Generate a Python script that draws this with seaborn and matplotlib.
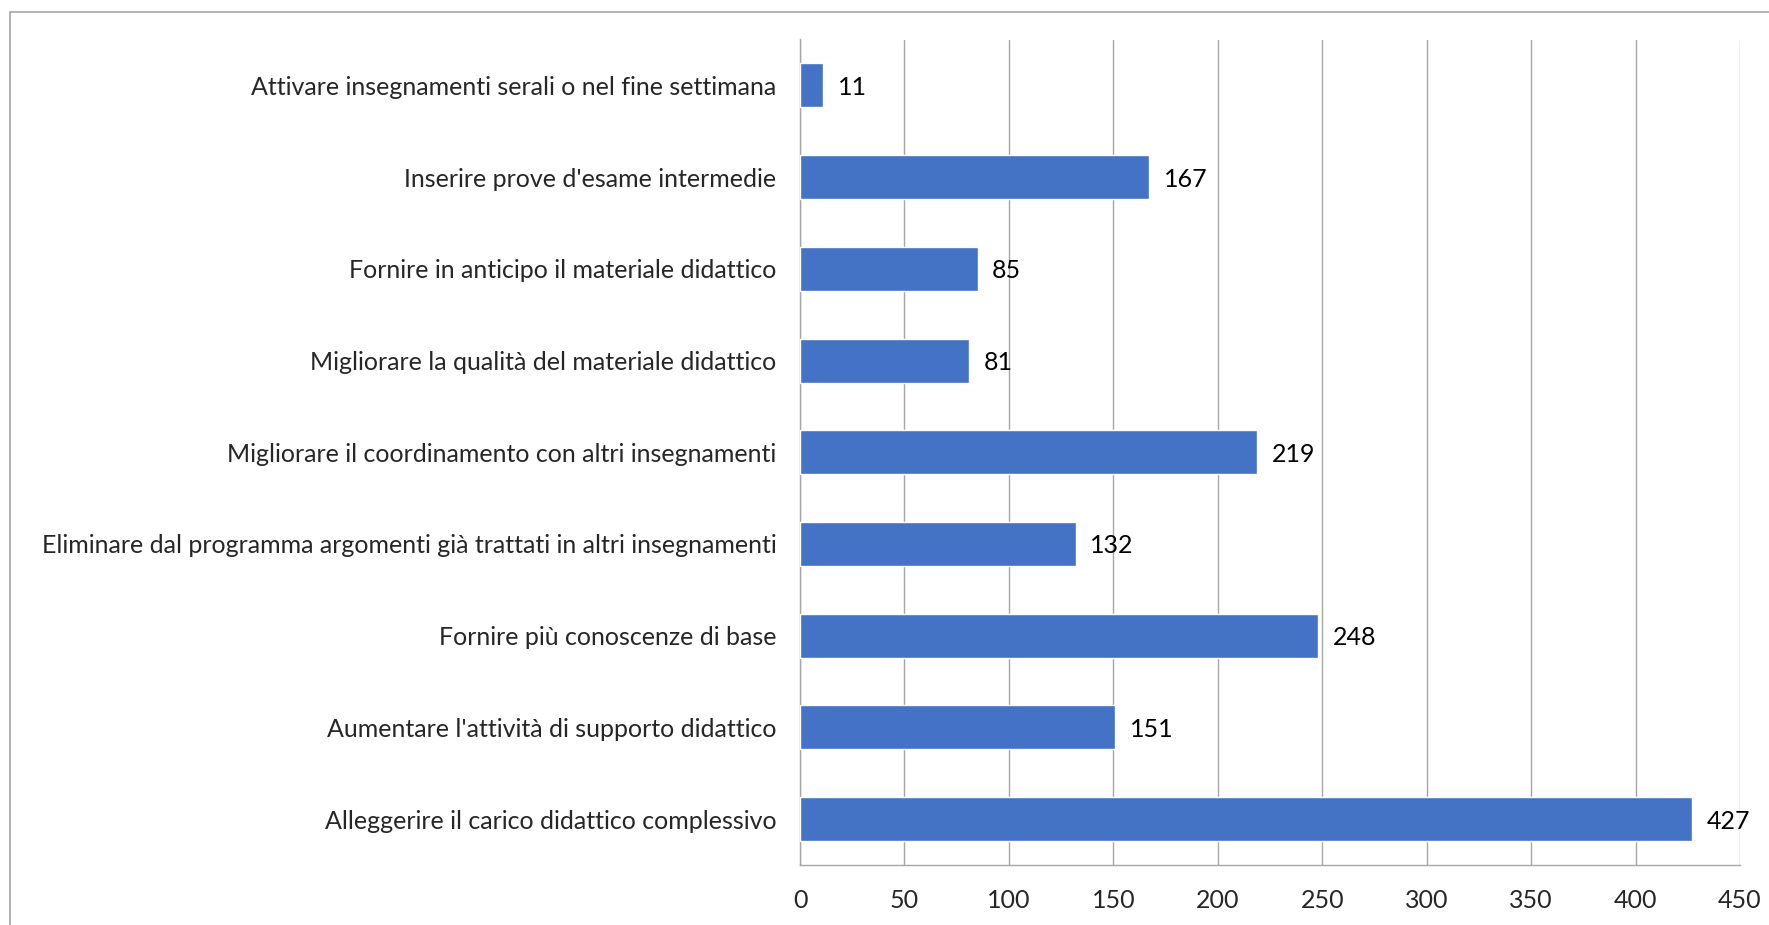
import matplotlib
matplotlib.use("Agg")
import matplotlib.pyplot as plt
import seaborn as sns
import pandas as pd
import numpy as np

categories = [
    "Attivare insegnamenti serali o nel fine settimana",
    "Inserire prove d'esame intermedie",
    "Fornire in anticipo il materiale didattico",
    "Migliorare la qualità del materiale didattico",
    "Migliorare il coordinamento con altri insegnamenti",
    "Eliminare dal programma argomenti già trattati in altri insegnamenti",
    "Fornire più conoscenze di base",
    "Aumentare l'attività di supporto didattico",
    "Alleggerire il carico didattico complessivo",
]
values = [11, 167, 85, 81, 219, 132, 248, 151, 427]
x_ticks = [0, 50, 100, 150, 200, 250, 300, 350, 400, 450]

df = pd.DataFrame({"categoria": categories, "valore": values})

sns.set_theme(style="white")
plt.rcParams["font.family"] = ["Lato", "DejaVu Sans"]

bar_color = "#4472C4"
grid_color = "#a6a6a6"

fig = plt.figure(figsize=(17.69, 9.25), dpi=100)
ax = fig.add_axes([800 / 1769, 60 / 925, 940 / 1769, 825.5 / 925])

sns.barplot(data=df, x="valore", y="categoria", orient="h", color=bar_color,
            width=0.48, saturation=1, ax=ax, zorder=3)

ax.set_xlim(0, 450)
ax.set_ylim(8.5, -0.5)
ax.set_xticks(x_ticks)
ax.set_xticklabels([str(t) for t in x_ticks], fontsize=18)
ax.set_xlabel("")
ax.set_ylabel("")
ax.tick_params(axis="y", which="major", length=0, labelsize=18, pad=17)
ax.set_yticks(np.arange(-0.5, 9, 1), minor=True)
ax.tick_params(axis="y", which="minor", length=8, color=grid_color, width=1)
ax.tick_params(axis="x", which="major", length=8, color=grid_color, width=1,
               direction="out", pad=9)

ax.grid(axis="x", color=grid_color, linewidth=1, zorder=0)
ax.set_axisbelow(True)
for side in ["top", "right"]:
    ax.spines[side].set_visible(False)
for side in ["left", "bottom"]:
    ax.spines[side].set_color(grid_color)
    ax.spines[side].set_linewidth(1)

for i, v in enumerate(values):
    ax.text(v + 7, i, str(v), va="center_baseline", ha="left", fontsize=18, color="black")

# chart area border
border = plt.Rectangle((10 / 1769, -0.1), 1.2, 1.1 - 12 / 925, transform=fig.transFigure,
                       fill=False, edgecolor="#a6a6a6", linewidth=1.2)
fig.patches.append(border)

fig.savefig("out.png", dpi=100)
